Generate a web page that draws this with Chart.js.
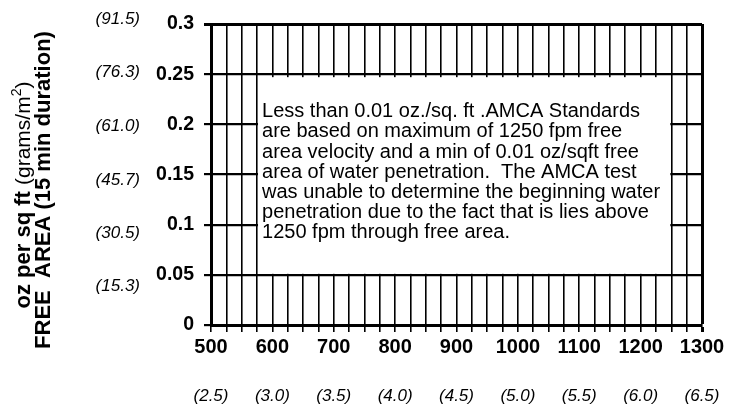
<!DOCTYPE html>
<html>
<head>
<meta charset="utf-8">
<script src="https://cdn.jsdelivr.net/npm/chart.js@4/dist/chart.umd.min.js"></script>
<style>
  body { margin: 0; background: #fff; }
  #wrap { width: 739px; height: 406px; }
</style>
</head>
<body>
<div id="wrap"><canvas id="waterChart"></canvas></div>
<script>
// velocity through free area (fpm) and its m/s equivalent
const xTicks = [500, 600, 700, 800, 900, 1000, 1100, 1200, 1300];
const xMetricLabels = ['(2.5)', '(3.0)', '(3.5)', '(4.0)', '(4.5)', '(5.0)', '(5.5)', '(6.0)', '(6.5)'];

// water penetration (oz per sq ft) and grams/m2 equivalent
const yTickLabels = ['0', '0.05', '0.1', '0.15', '0.2', '0.25', '0.3'];
const yMetricValues = [15.3, 30.5, 45.7, 61.0, 76.3, 91.5];

// no measured points - the note explains why
const penetration = [];

// note box corners in data units
const noteX = [575, 1250];
const noteY = [0.05, 0.25];
const noteLines = [
    'Less than 0.01 oz./sq. ft .AMCA Standards',
    'are based on maximum of 1250 fpm free',
    'area velocity and a min of 0.01 oz/sqft free',
    'area of water penetration.  The AMCA test',
    'was unable to determine the beginning water',
    'penetration due to the fact that is lies above',
    '1250 fpm through free area.'
];

const FONT = "'Liberation Sans', Arial, sans-serif";

// white note box over the grid
const noteBox = {
    id: 'noteBox',
    beforeDatasetsDraw(chart) {
        const { ctx, scales: { x, y } } = chart;
        const l = x.getPixelForValue(noteX[0]);
        const r = x.getPixelForValue(noteX[1]);
        const t = y.getPixelForValue(noteY[1]);
        const b = y.getPixelForValue(noteY[0]);
        ctx.save();
        ctx.fillStyle = '#fff';
        ctx.fillRect(l + 1, t + 3, r - l - 2, b - t - 4);
        ctx.fillStyle = '#000';
        ctx.font = '20px ' + FONT;
        ctx.textBaseline = 'alphabetic';
        noteLines.forEach(function(line, i) {
            ctx.fillText(line, l + 5, t + 43 + i * 20.2);
        });
        ctx.restore();
    }
};

// two line rotated axis title, first line has mixed weights
const yTitle = {
    id: 'yTitle',
    afterDraw(chart) {
        const ctx = chart.ctx;
        ctx.save();
        ctx.fillStyle = '#000';
        ctx.textBaseline = 'alphabetic';

        const parts = [
            { t: 'oz per sq ft ', f: 'bold 22px ' + FONT, dy: 0 },
            { t: '(grams/m', f: '21px ' + FONT, dy: 0 },
            { t: '2', f: '14px ' + FONT, dy: -9 },
            { t: ')', f: '21px ' + FONT, dy: 0 }
        ];
        let total = 0;
        parts.forEach(function(p) { ctx.font = p.f; p.w = ctx.measureText(p.t).width; total += p.w; });
        ctx.save();
        ctx.translate(30, 195);
        ctx.rotate(-Math.PI / 2);
        let px = -total / 2;
        parts.forEach(function(p) { ctx.font = p.f; ctx.fillText(p.t, px, p.dy); px += p.w; });
        ctx.restore();

        ctx.save();
        ctx.translate(50, 190);
        ctx.rotate(-Math.PI / 2);
        ctx.font = 'bold 22px ' + FONT;
        ctx.textAlign = 'center';
        ctx.fillText('FREE  AREA (15 min duration)', 0, 0);
        ctx.restore();

        ctx.restore();
    }
};

new Chart(document.getElementById('waterChart'), {
    type: 'scatter',
    data: {
        datasets: [{ data: penetration, showLine: false }]
    },
    options: {
        responsive: true,
        maintainAspectRatio: false,
        animation: false,
        layout: { padding: { top: 24, right: 37, left: 0, bottom: 0 } },
        plugins: { legend: { display: false }, tooltip: { enabled: false } },
        scales: {
            x: {
                type: 'linear',
                position: 'bottom',
                weight: 0,
                min: 500,
                max: 1300,
                afterFit: function(s) { s.height = 60; },
                grid: {
                    color: '#000',
                    lineWidth: function(c) { return c.tick && c.tick.value === 1300 ? 3 : 1.6; },
                    tickLength: 7,
                    tickColor: '#000'
                },
                border: { display: true, color: '#000', width: 3 },
                ticks: {
                    stepSize: 25,
                    autoSkip: false,
                    maxRotation: 0,
                    padding: 3,
                    color: '#000',
                    font: { family: FONT, size: 20, weight: 'bold' },
                    callback: function(v) { return xTicks.includes(v) ? String(v) : ''; }
                }
            },
            x2: {
                type: 'linear',
                position: 'bottom',
                weight: 1,
                min: 500,
                max: 1300,
                afterFit: function(s) { s.height = 21; },
                grid: { display: false, drawTicks: false },
                border: { display: false },
                ticks: {
                    stepSize: 100,
                    autoSkip: false,
                    maxRotation: 0,
                    padding: 1,
                    color: '#000',
                    font: { family: FONT, size: 17, style: 'italic' },
                    callback: function(v, i) { return xMetricLabels[i]; }
                }
            },
            y: {
                type: 'linear',
                position: 'left',
                weight: 0,
                min: 0,
                max: 0.3,
                afterFit: function(s) { s.width = 61; },
                grid: {
                    color: '#000',
                    lineWidth: function(c) { return c.tick && c.tick.value > 0.29 ? 3 : 2.2; },
                    tickLength: 7,
                    tickColor: '#000'
                },
                border: { display: true, color: '#000', width: 3 },
                ticks: {
                    stepSize: 0.05,
                    autoSkip: false,
                    padding: 10,
                    color: '#000',
                    font: { family: FONT, size: 19.5, weight: 'bold' },
                    callback: function(v, i) { return yTickLabels[i]; }
                }
            },
            y2: {
                type: 'linear',
                position: 'left',
                weight: 1,
                // metric labels sit slightly off the oz ticks in the source
                min: 4.4,
                max: 90.1,
                afterFit: function(s) { s.width = 150; },
                afterBuildTicks: function(s) { s.ticks = yMetricValues.map(function(v) { return { value: v }; }); },
                grid: { display: false, drawTicks: false },
                border: { display: false },
                ticks: {
                    autoSkip: false,
                    padding: 10,
                    color: '#000',
                    font: { family: FONT, size: 17, style: 'italic' },
                    callback: function(v) { return '(' + v.toFixed(1) + ')'; }
                }
            }
        }
    },
    plugins: [noteBox, yTitle]
});
</script>
</body>
</html>
